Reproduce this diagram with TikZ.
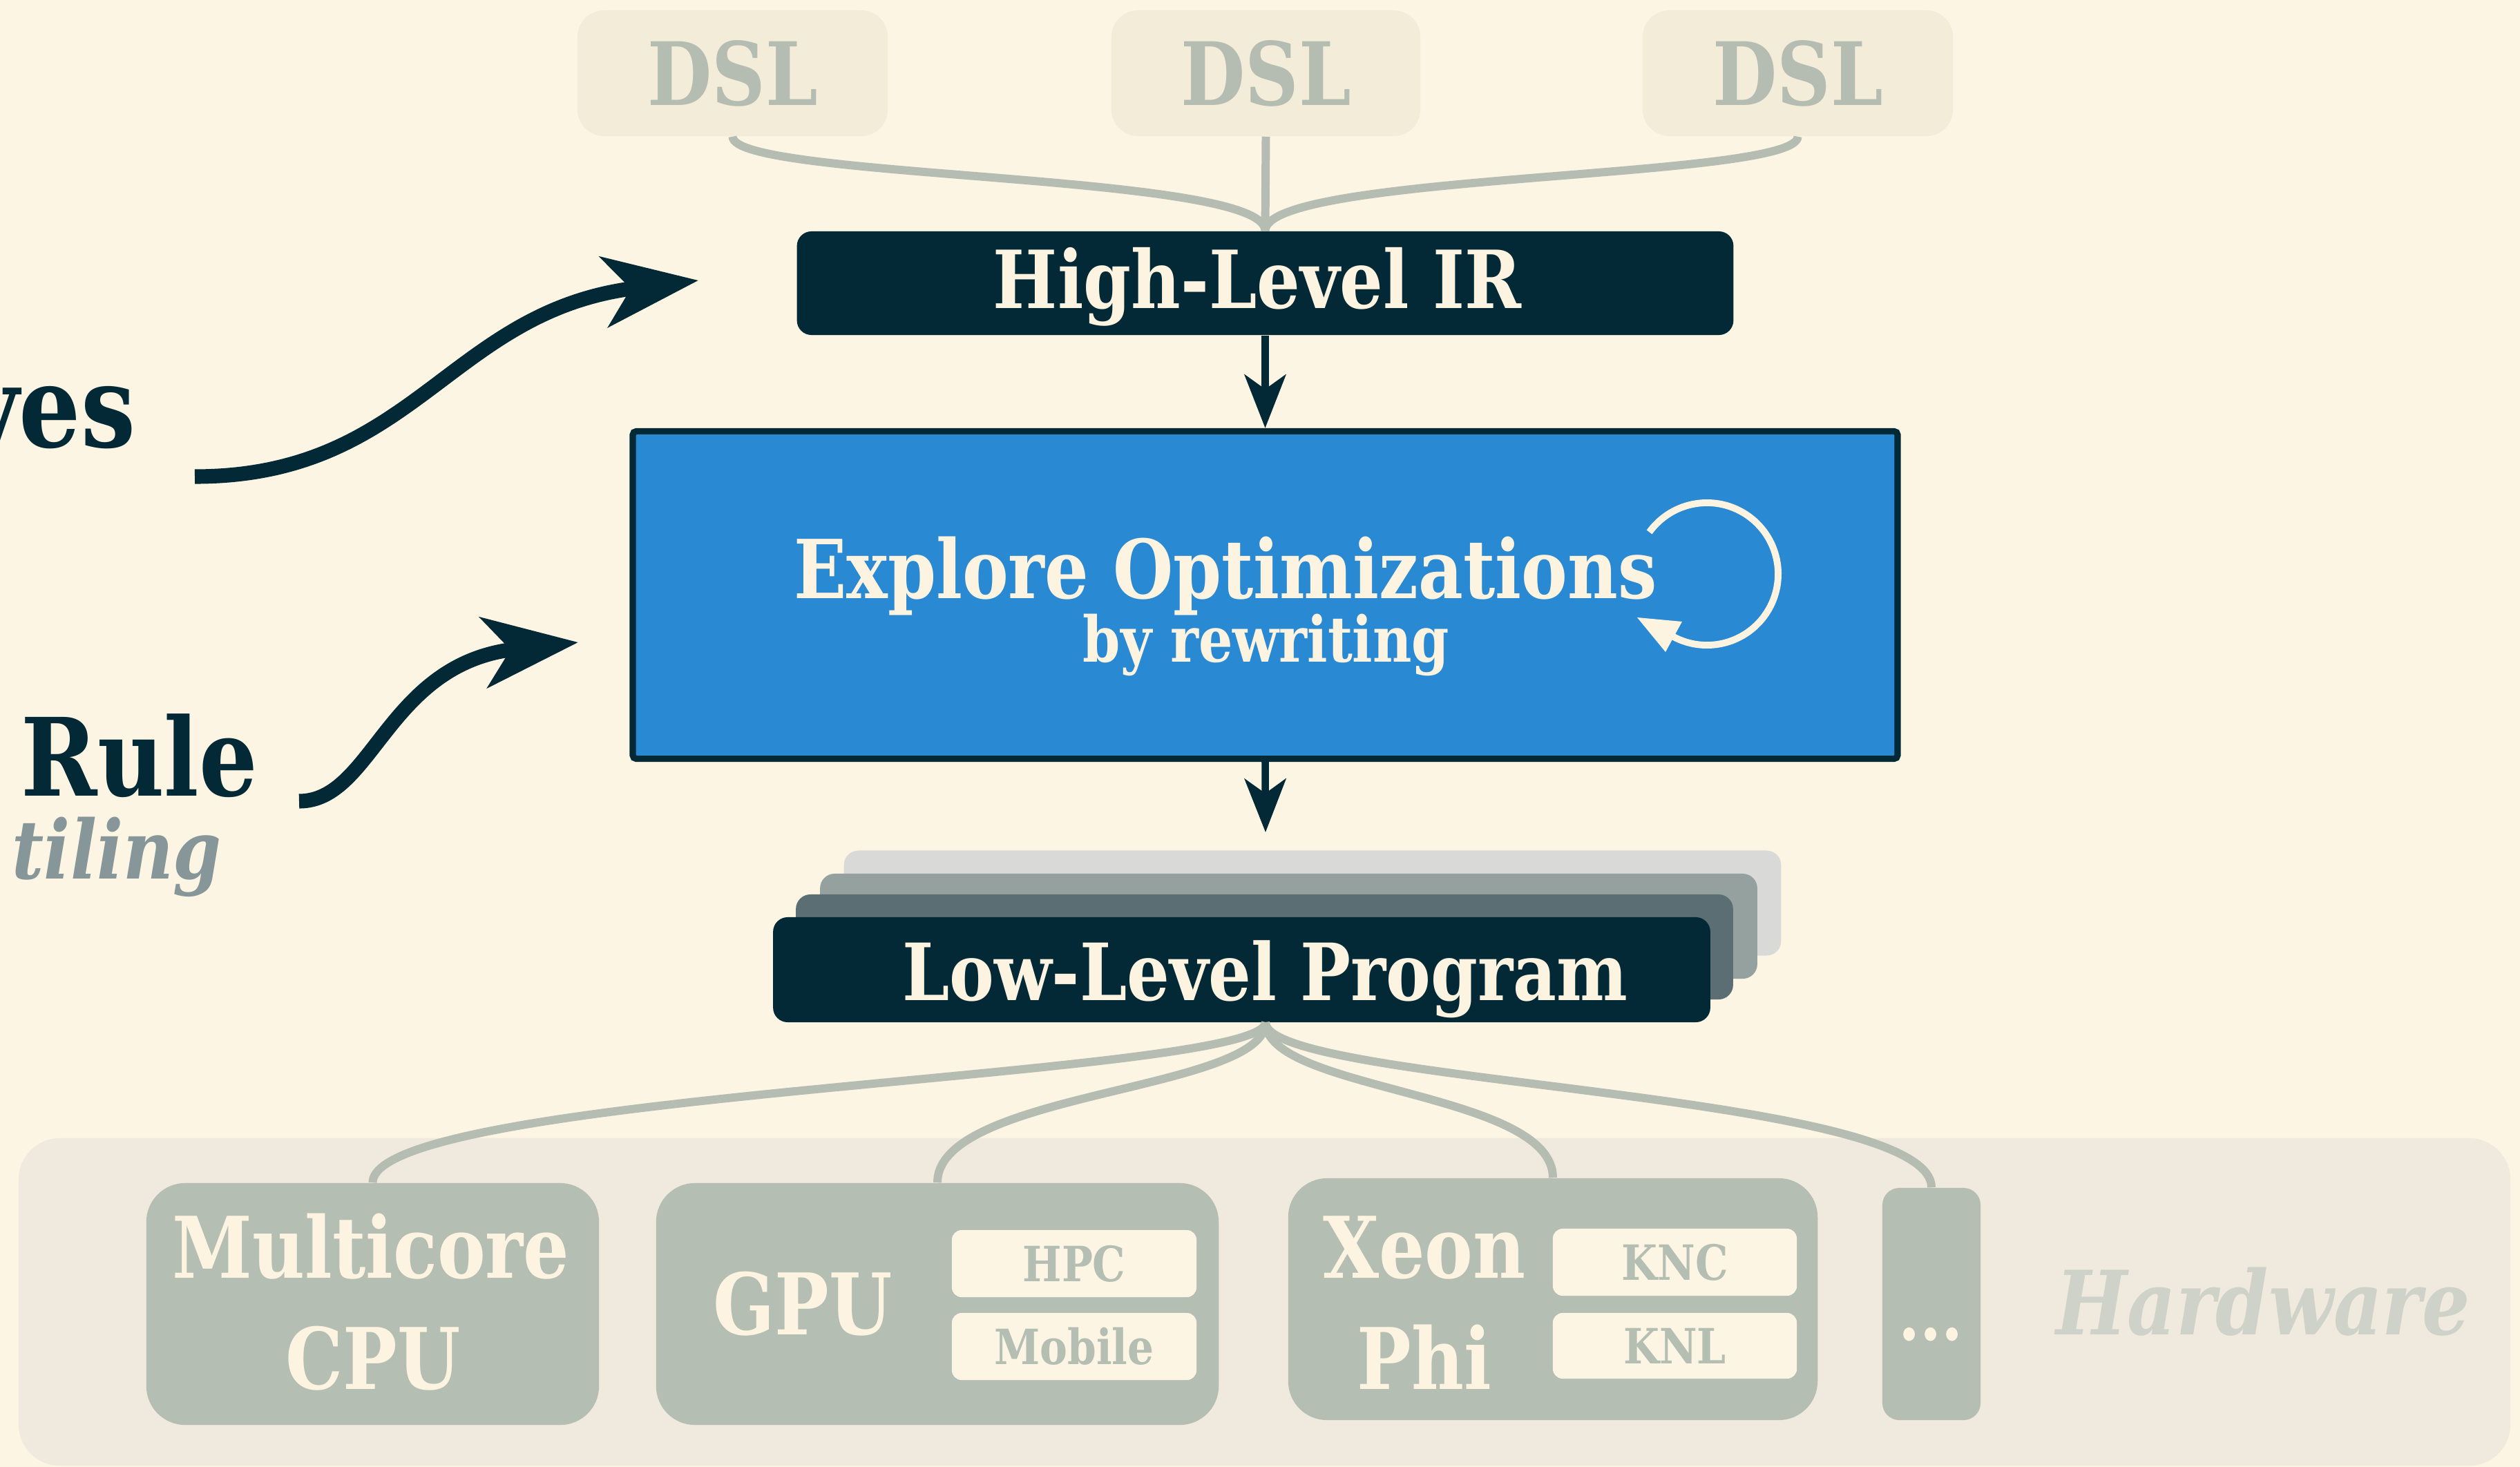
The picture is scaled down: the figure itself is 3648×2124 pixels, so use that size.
\documentclass[tikz,border=0pt]{standalone}
\usepackage{fontspec}
\setmainfont{DejaVu Serif}[FakeStretch=0.85]
\usetikzlibrary{arrows.meta}

\definecolor{paper}{HTML}{FCF5E3}
\definecolor{ink}{HTML}{022935}
\definecolor{dslfill}{HTML}{F3ECD8}
\definecolor{dsltext}{HTML}{B5BDB2}
\definecolor{linegray}{HTML}{B5BDB2}
\definecolor{hwback}{HTML}{F0E9DD}
\definecolor{hwfill}{HTML}{B5BEB2}
\definecolor{hwlabel}{HTML}{CED2C8}
\definecolor{rwblue}{HTML}{2989D2}
\definecolor{layerA}{HTML}{D9D9D7}
\definecolor{layerB}{HTML}{95A19F}
\definecolor{layerC}{HTML}{5B6E73}
\definecolor{cream}{HTML}{FCF4E1}
\definecolor{tilegray}{HTML}{879698}

\newcommand{\fsz}[1]{\fontsize{#1pt}{#1pt}\selectfont\bfseries}

\tikzset{
  dslbox/.style={fill=dslfill, rounded corners=11pt, inner sep=0pt,
    minimum height=1.82cm, text=dsltext, font=\fsz{36}},
  inkbox/.style={fill=ink, rounded corners=6pt, inner sep=0pt,
    minimum width=13.56cm, minimum height=1.52cm},
  layerbox/.style={rounded corners=6pt, inner sep=0pt,
    minimum width=13.56cm, minimum height=1.52cm},
  hwbox/.style={fill=hwfill, rounded corners=16pt, inner sep=0pt},
  subbox/.style={fill=paper, rounded corners=4pt, inner sep=0pt,
    minimum width=3.54cm, minimum height=0.97cm, text=hwfill, font=\fsz{20}},
  feed/.style={draw=linegray, line width=3.4pt},
  flow/.style={draw=ink, line width=3pt,
    -{Stealth[length=22pt,width=17pt,inset=6pt]}},
  swoosh/.style={draw=ink, line width=6pt,
    -{Stealth[length=39pt,width=29pt,inset=11pt]}},
  lbl/.style={inner sep=0pt, anchor=base},
}

\begin{document}
\begin{tikzpicture}[x=0.01cm, y=-0.01cm]
  % page
  \fill[paper] (0,0) rectangle (3648,2124);
  \useasboundingbox (0,0) rectangle (3648,2124);

  % front ends
  \node[dslbox, minimum width=4.49cm] (dsl1) at (1060.5,106) {DSL};
  \node[dslbox, minimum width=4.47cm] (dsl2) at (1832.5,106) {DSL};
  \node[dslbox, minimum width=4.49cm] (dsl3) at (2602.5,106) {DSL};

  % high-level IR
  \node[inkbox, minimum width=13.55cm, minimum height=1.50cm] (hl) at (1831.5,410) {};
  \node[lbl, text=cream, font=\fsz{33}] (hltext) at (1820,446) {High-Level IR};

  \draw[feed] (dsl1.south) .. controls (1060,260) and (1832,250) .. (hl.north);
  \draw[feed] (dsl2.south) -- (hl.north);
  \draw[feed] (dsl3.south) .. controls (2603,260) and (1832,250) .. (hl.north);

  % rewriting stage
  \node[fill=rwblue, draw=ink, line width=2.6pt, rounded corners=1.5pt,
        inner sep=0pt, minimum width=18.30cm, minimum height=4.74cm]
        (exp) at (1831.5,861.5) {};
  \node[lbl, text=cream, font=\fsz{33.5}] (exptext) at (1774,866) {Explore Optimizations};
  \node[lbl, text=cream, font=\fsz{26}] (bytext) at (1833,958) {by rewriting};

  % loop symbol
  \coordinate (loopc) at (2471,831);
  \draw[cream, line width=2.8pt] (loopc) ++(144:1.03cm) arc[start angle=144, end angle=-118, radius=1.03cm];
  \fill[cream] (2370,894) -- (2435,900) -- (2411,944) -- cycle;

  \draw[flow] (hl.south) -- (exp.north);
  \coordinate (lptop) at (1832,1205);
  \draw[flow] (exp.south) -- (lptop);

  % low-level programs
  \node[layerbox, fill=layerA] (lp4) at (1900,1307.5) {};
  \node[layerbox, fill=layerB] (lp3) at (1865.5,1341) {};
  \node[layerbox, fill=layerC] (lp2) at (1830.5,1371) {};
  \node[inkbox] (lp) at (1797.5,1404) {};
  \node[lbl, text=cream, font=\fsz{32.5}] (lptext) at (1831,1448) {Low-Level Program};
  \coordinate (lpout) at (1832,1480);

  % hardware
  \node[fill=hwback, rounded corners=17pt, inner sep=0pt,
        minimum width=36.05cm, minimum height=4.74cm] (hw) at (1830.5,1885) {};
  \node[lbl, text=hwlabel, font=\fontsize{36.5pt}{36.5pt}\selectfont\bfseries\itshape]
        (hwtext) at (3276,1932) {Hardware};

  \node[hwbox, minimum width=6.55cm, minimum height=3.50cm] (mc) at (539.5,1888) {};
  \node[hwbox, minimum width=8.14cm, minimum height=3.50cm] (gpu) at (1357,1888) {};
  \node[hwbox, minimum width=7.66cm, minimum height=3.50cm] (xeon) at (2248,1881) {};
  \node[hwbox, rounded corners=7pt, minimum width=1.42cm, minimum height=3.36cm] (more) at (2796,1888) {};

  \draw[feed] (lpout) .. controls (1832,1560) and (540,1580) .. (mc.north);
  \draw[feed] (lpout) .. controls (1832,1580) and (1357,1580) .. (gpu.north);
  \draw[feed] (lpout) .. controls (1832,1580) and (2248,1580) .. (xeon.north);
  \draw[feed] (lpout) .. controls (1832,1570) and (2796,1580) .. (more.north);

  \node[lbl, text=cream, font=\fsz{35}] (mc1) at (537,1850) {Multicore};
  \node[lbl, text=cream, font=\fsz{35}] (mc2) at (540,2011) {CPU};
  \node[lbl, text=cream, font=\fsz{35}] (gputext) at (1162,1932) {GPU};
  \node[subbox] (hpc) at (1555,1829.5) {HPC};
  \node[subbox] (mob) at (1555,1949.5) {Mobile};
  \node[lbl, text=cream, font=\fsz{35}] (xe1) at (2062,1850) {Xeon};
  \node[lbl, text=cream, font=\fsz{35}] (xe2) at (2062,2011) {Phi};
  \node[subbox, minimum width=3.53cm] (knc) at (2424.5,1827.5) {KNC};
  \node[subbox, minimum width=3.53cm, minimum height=0.95cm] (knl) at (2424.5,1948.5) {KNL};
  \node[lbl, text=cream, font=\fsz{30}] (moretext) at (2795,1940) {...};

  % side annotations
  \node[lbl, anchor=base east, text=ink, font=\fsz{47}] (ves) at (197,647) {ves};
  \node[lbl, anchor=base west, text=ink, font=\fsz{44.5}] (rule) at (30,1152) {Rule};
  \node[lbl, anchor=base west, text=tilegray, font=\fontsize{33.5pt}{33.5pt}\selectfont\bfseries\itshape]
        (tiling) at (17,1272) {tiling};

  \coordinate (s1) at (282,690);
  \coordinate (e1) at (1011,406);
  \coordinate (s2) at (433,1160);
  \coordinate (e2) at (837,930);
  \draw[swoosh] (s1) .. controls (600,690) and (650,450) .. (e1);
  \draw[swoosh] (s2) .. controls (540,1160) and (560,960) .. (e2);
\end{tikzpicture}
\end{document}
